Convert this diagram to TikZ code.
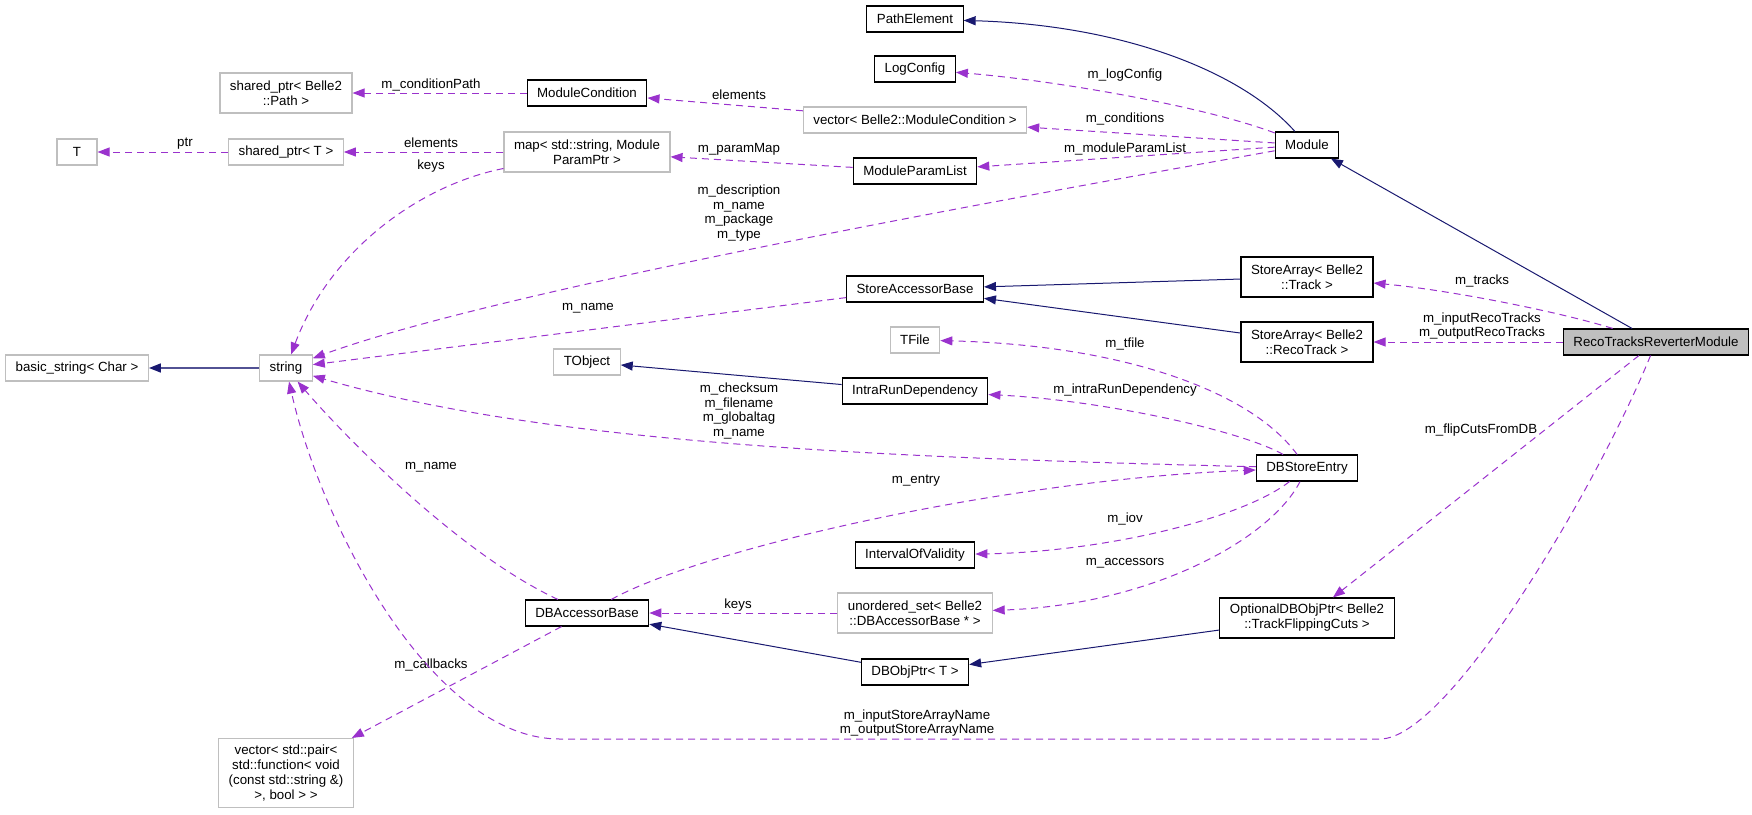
\documentclass[tikz,border=0pt]{standalone}
\usepackage{fontspec}
\setmainfont{Liberation Sans}
\usepackage{tikz}
\usetikzlibrary{arrows.meta}
\definecolor{inhblue}{HTML}{191970}
\definecolor{usepurple}{HTML}{9A32CD}
\definecolor{undocgray}{HTML}{BFBFBF}

\begin{document}
\begin{tikzpicture}[x=1pt,y=-1pt,>={Triangle[length=12pt,width=9pt]},
  font=\fontsize{13.3}{15}\selectfont,
  class node/.style={rectangle,draw=black,line width=1.1pt,inner xsep=10pt,inner ysep=3pt,
    minimum width=40pt,minimum height=26pt,align=center},
  ext node/.style={class node,draw=undocgray},
  main node/.style={class node,fill=undocgray},
  inherits/.style={->,color=inhblue,line width=1pt},
  uses/.style={->,color=usepurple,line width=1pt,dash pattern=on 7pt off 5pt},
  lbl/.style={inner sep=0pt,align=center,text=black,font=\fontsize{13.3}{14.7}\selectfont}]

  \useasboundingbox (0,0) rectangle (1752,814);

  \node[class node] (1) at (915,19) {PathElement};
  \node[class node] (2) at (915,69) {LogConfig};
  \node[ext node,minimum height=40pt] (3) at (286,93) {shared\_ptr< Belle2\\::Path >};
  \node[class node] (4) at (587,93) {ModuleCondition};
  \node[ext node] (5) at (915,120) {vector< Belle2::ModuleCondition >};
  \node[ext node] (6) at (77,152) {T};
  \node[ext node] (7) at (286,152) {shared\_ptr< T >};
  \node[ext node,minimum height=40pt] (8) at (587,152) {map< std::string, Module\\ParamPtr >};
  \node[class node] (9) at (915,171) {ModuleParamList};
  \node[class node] (10) at (1307,145) {Module};
  \node[class node] (11) at (915,289) {StoreAccessorBase};
  \node[class node,minimum height=40pt] (12) at (1307,277) {StoreArray< Belle2\\::Track >};
  \node[class node,minimum height=40pt] (13) at (1307,342) {StoreArray< Belle2\\::RecoTrack >};
  \node[main node] (14) at (1656,342) {RecoTracksReverterModule};
  \node[ext node] (15) at (915,340) {TFile};
  \node[ext node] (16) at (77,368) {basic\_string< Char >};
  \node[ext node] (17) at (286,368) {string};
  \node[ext node] (18) at (587,362) {TObject};
  \node[class node] (19) at (915,391) {IntraRunDependency};
  \node[class node] (20) at (1307,468) {DBStoreEntry};
  \node[class node] (21) at (915,555) {IntervalOfValidity};
  \node[class node] (22) at (587,613) {DBAccessorBase};
  \node[ext node,minimum height=40pt] (23) at (915,613) {unordered\_set< Belle2\\::DBAccessorBase * >};
  \node[class node,minimum height=40pt] (24) at (1307,618) {OptionalDBObjPtr< Belle2\\::TrackFlippingCuts >};
  \node[class node] (25) at (915,672) {DBObjPtr< T >};
  \node[ext node,minimum height=69pt] (26) at (286,773) {vector< std::pair<\\std::function< void\\(const std::string \&)\\>, bool > >};

  \draw[inherits] (10) .. controls (1240,70) and (1120,25) .. (1);
  \draw[inherits] (14) -- (10);
  \draw[inherits] (12) -- (11);
  \draw[inherits] (13) -- (11);
  \draw[inherits,draw=inhblue!75,line width=1.6pt,-{Triangle[length=12pt,width=9pt,color=inhblue]}] (17) -- (16);
  \draw[inherits] (19) -- (18);
  \draw[inherits] (25) -- (22);
  \draw[inherits] (24) -- (25);

  \draw[uses] (4) -- (3) node[lbl] (l1) at (431,85) {m\_conditionPath};
  \draw[uses] (7) -- (6) node[lbl] (l2) at (185,144) {ptr};
  \draw[uses] (8) -- (7) node[lbl] (l3) at (431,143) {elements};
  \draw[uses] (8) .. controls (420,185) and (330,250) .. (17) node[lbl] (l4) at (431,166) {keys};
  \draw[uses] (5) -- (4) node[lbl] (l5) at (739,95) {elements};
  \draw[uses] (9) -- (8) node[lbl] (l6) at (739,149) {m\_paramMap};
  \draw[uses] (10) .. controls (1200,105) and (1050,80) .. (2) node[lbl] (l7) at (1125,75) {m\_logConfig};
  \draw[uses] (10) -- (5) node[lbl] (l8) at (1125,119) {m\_conditions};
  \draw[uses] (10) -- (9) node[lbl] (l9) at (1125,149) {m\_moduleParamList};
  \draw[uses] (10) .. controls (1000,200) and (500,290) .. (17)
    node[lbl] (l10) at (739,213) {m\_description\\m\_name\\m\_package\\m\_type};
  \draw[uses] (11) -- (17) node[lbl] (l11) at (588,308) {m\_name};
  \draw[uses] (14) .. controls (1560,312) and (1450,290) .. (12) node[lbl] (l12) at (1482,281) {m\_tracks};
  \draw[uses] (14) -- (13) node[lbl] (l13) at (1482,326) {m\_inputRecoTracks\\m\_outputRecoTracks};
  \draw[uses] (20) .. controls (1250,390) and (1120,345) .. (15) node[lbl] (l14) at (1125,344) {m\_tfile};
  \draw[uses] (20) .. controls (1240,430) and (1100,400) .. (19) node[lbl] (l15) at (1125,390) {m\_intraRunDependency};
  \draw[uses] (20) .. controls (900,458) and (550,445) .. (17)
    node[lbl] (l16) at (739,411) {m\_checksum\\m\_filename\\m\_globaltag\\m\_name};
  \draw[uses] (22) .. controls (700,550) and (1000,480) .. (20) node[lbl] (l17) at (916,481) {m\_entry};
  \draw[uses] (22) .. controls (456,552) and (340,431) .. (17) node[lbl] (l18) at (431,467) {m\_name};
  \draw[uses] (22) -- (26) node[lbl] (l19) at (431,665) {m\_callbacks};
  \draw[uses] (20) .. controls (1240,520) and (1100,552) .. (21) node[lbl] (l20) at (1125,519) {m\_iov};
  \draw[uses] (20) .. controls (1270,540) and (1150,605) .. (23) node[lbl] (l21) at (1125,563) {m\_accessors};
  \draw[uses] (23) -- (22) node[lbl] (l22) at (738,605) {keys};
  \draw[uses] (14) -- (24) node[lbl] (l23) at (1481,430) {m\_flipCutsFromDB};
  \draw[uses] (14) .. controls (1600,480) and (1450,739) .. (1380,739) -- (560,739)
    .. controls (430,739) and (320,520) .. (17)
    node[lbl] (l24) at (917,723) {m\_inputStoreArrayName\\m\_outputStoreArrayName};
\end{tikzpicture}
\end{document}
